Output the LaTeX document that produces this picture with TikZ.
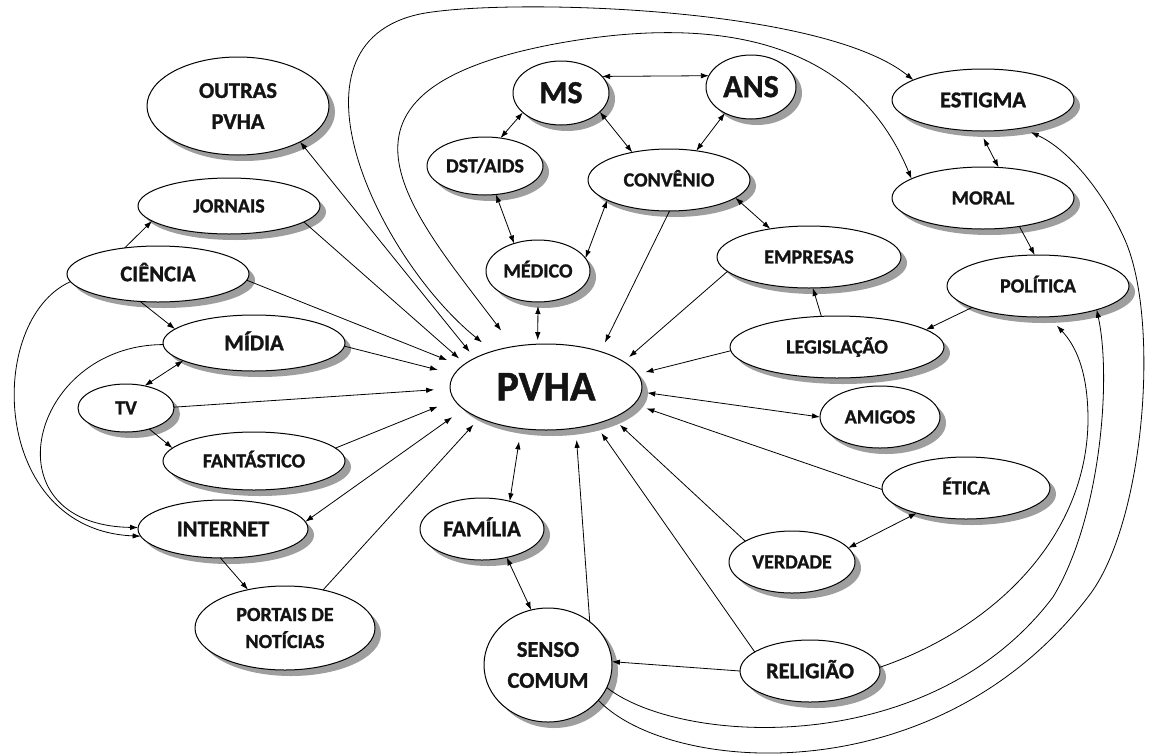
\documentclass[tikz,border=0pt]{standalone}
\usepackage{fontspec}
\setmainfont{Carlito}[BoldFeatures={FakeBold=1.2}]
\usetikzlibrary{shapes.geometric,arrows.meta,shadows}
\begin{document}
\begin{tikzpicture}[x=1pt,y=-1pt,
  box/.style={ellipse, draw=black, line width=1pt, fill=white, inner sep=0pt, outer sep=0pt,
    drop shadow={shadow xshift=6pt, shadow yshift=-6pt, fill=black!38, opacity=1}, text=black!92},
  sz/.style 2 args={minimum width=#1pt, minimum height=#2pt},
  sm/.style={font=\bfseries\fontsize{20}{27}\selectfont, text height=15pt, text depth=2.1pt},
  md/.style={font=\bfseries\fontsize{22.5}{31}\selectfont, text height=16.5pt, text depth=2pt},
  bg/.style={font=\bfseries\fontsize{32}{36}\selectfont, text height=22.2pt, text depth=2pt},
  hg/.style={font=\bfseries\fontsize{42}{46}\selectfont, text height=28.6pt, text depth=2pt},
  smtwo/.style={font=\bfseries\fontsize{20}{27}\selectfont, align=center},
  mdtwo/.style={font=\bfseries\fontsize{22.5}{31}\selectfont, align=center},
  link/.style={line width=0.8pt, -{Latex[length=8pt,width=5.5pt]}},
  dlink/.style={line width=0.8pt, {Latex[length=8pt,width=5.5pt]}-{Latex[length=8pt,width=5.5pt]}},
]
\fill[white] (0,0) rectangle (1155,755);
\useasboundingbox (0,0) rectangle (1155,755);

% nodes
\node[box, mdtwo, sz={182}{98}] (outras) at (238,106) {OUTRAS\\PVHA};
\node[box, sm, sz={182}{56}] (jornais) at (229,206) {JORNAIS};
\node[box, md, sz={182}{56}] (ciencia) at (158,274) {CIÊNCIA};
\node[box, md, sz={182}{56}] (midia) at (254,343) {MÍDIA};
\node[box, sm, sz={96}{48}] (tv) at (126,408) {TV};
\node[box, sm, sz={182}{58}] (fantastico) at (254,461) {FANTÁSTICO};
\node[box, md, sz={170}{58}] (internet) at (223,529) {INTERNET};
\node[box, smtwo, sz={180}{84}] (portais) at (285,628) {PORTAIS DE\\NOTÍCIAS};
\node[box, hg, sz={192}{86}] (pvha) at (546,387) {PVHA};
\node[box, bg, sz={96}{64}] (ms) at (561,93) {MS};
\node[box, bg, sz={90}{64}] (ans) at (751,87) {ANS};
\node[box, sm, sz={116}{58}] (dst) at (485,166) {DST/AIDS};
\node[box, sm, sz={162}{62}] (convenio) at (669,180) {CONVÊNIO};
\node[box, sm, sz={104}{62}] (medico) at (538,271) {MÉDICO};
\node[box, sm, sz={184}{62}] (empresas) at (809,257) {EMPRESAS};
\node[box, sm, sz={214}{62}] (legislacao) at (837,347) {LEGISLAÇÃO};
\node[box, md, sz={182}{62}] (estigma) at (983,100) {ESTIGMA};
\node[box, sm, sz={182}{62}] (moral) at (983,198) {MORAL};
\node[box, sm, sz={182}{62}] (politica) at (1038,286) {POLÍTICA};
\node[box, sm, sz={120}{62}] (amigos) at (880,417) {AMIGOS};
\node[box, sm, sz={168}{62}] (etica) at (966,488) {ÉTICA};
\node[box, sm, sz={126}{62}] (verdade) at (792,562) {VERDADE};
\node[box, md, sz={140}{62}] (religiao) at (810,671) {RELIGIÃO};
\node[box, mdtwo, sz={128}{114}] (senso) at (548,665) {SENSO\\COMUM};
\node[box, md, sz={124}{62}] (familia) at (482,529) {FAMÍLIA};

% connectors into PVHA
\draw[dlink, shorten >=8pt] (outras.330) -- (pvha.158);
\draw[link, shorten >=8pt] (jornais.348) -- (pvha.164);
\draw[link, shorten >=16pt] (ciencia.356) -- (pvha.166);
\draw[link, shorten >=17pt] (midia.358) -- (pvha.172);
\draw[link, shorten >=16pt] (tv.1) -- (pvha.181);
\draw[link, shorten >=18pt] (fantastico.9) -- (pvha.188);
\draw[dlink, shorten >=14pt] (internet.5) -- (pvha.195);
\draw[link, shorten >=9pt] (portais.45) -- (pvha.205);
\draw[dlink, shorten >=13pt] (familia.45) -- (pvha.239);
\draw[link, shorten >=12pt] (senso.46) -- (pvha.306);
\draw[link, shorten >=11pt] (religiao.161) -- (pvha.323);
\draw[link, shorten >=10pt] (verdade.156) -- (pvha.335);
\draw[link, shorten >=13pt] (etica.181) -- (pvha.349);
\draw[dlink, shorten >=6pt] (amigos.180) -- (pvha.357);
\draw[link, shorten >=8pt] (legislacao.182) -- (pvha.8);
\draw[link, shorten >=7pt] (empresas.190) -- (pvha.18);
\draw[link, shorten >=10pt] (convenio.271) -- (pvha.33);
\draw[dlink, shorten >=4pt, shorten <=4pt] (medico.270) -- (pvha.101);

% left cluster
\draw[link] (ciencia.142) -- (jornais.191);
\draw[link] (ciencia.237) -- (midia.170);
\draw[dlink] (midia.194) -- (tv.50);
\draw[link] (tv.318) -- (fantastico.171);
\draw[link] (internet.265) -- (portais.134);
\draw[link] (ciencia.185) .. controls (-15,320) and (-10,530) .. (internet.185);
\draw[link] (midia.181) .. controls (30,345) and (-15,525) .. (internet.179);

% top cluster
\draw[dlink] (ms.207) -- (dst.61);
\draw[dlink] (ms.22) -- (ans.165);
\draw[dlink] (ms.334) -- (convenio.143);
\draw[dlink] (ans.225) -- (convenio.47);
\draw[dlink] (dst.291) -- (medico.131);
\draw[dlink] (convenio.198) -- (medico.15);
\draw[dlink] (convenio.345) -- (empresas.144);

% right cluster
\draw[link] (legislacao.117) -- (empresas.277);
\draw[link] (politica.198) -- (legislacao.11);
\draw[link] (moral.322) -- (politica.96);
\draw[dlink, shorten <=8pt] (estigma.264) -- (moral.63);
\draw[dlink] (etica.207) -- (verdade.14);
\draw[link] (religiao.180) -- (senso.3);
\draw[dlink] (familia.311) -- (senso.107);

% long curves
\draw[dlink, shorten <=14pt] (pvha.146) .. controls (380,260) and (275,45) .. (420,14)
  .. controls (500,-2) and (820,5) .. (estigma.164);
\draw[dlink, shorten <=20pt] (pvha.129) .. controls (410,210) and (300,90) .. (560,43)
  .. controls (700,18) and (850,30) .. (moral.165);
\draw[link, shorten >=12pt] (religiao.3) .. controls (990,630) and (1087,540) .. (1088,420)
  .. controls (1088,370) and (1075,345) .. (politica.289);
\draw[link] (senso.339) .. controls (680,745) and (930,760) .. (1053,597)
  .. controls (1100,520) and (1112,380) .. (politica.338);
\draw[link, shorten >=10pt] (senso.325) .. controls (670,775) and (940,795) .. (1091,593)
  .. controls (1145,518) and (1160,320) .. (1125,240)
  .. controls (1105,195) and (1070,150) .. (estigma.324);
\end{tikzpicture}
\end{document}
